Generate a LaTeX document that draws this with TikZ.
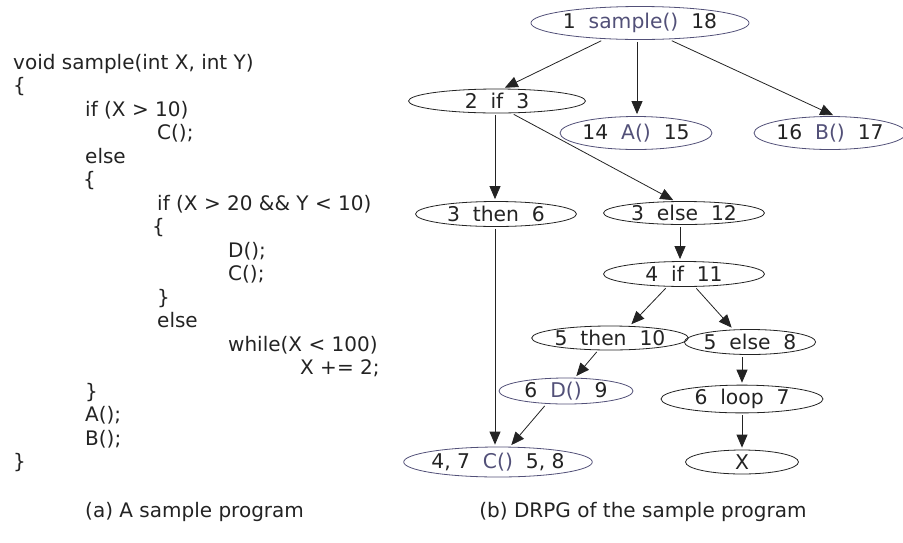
\documentclass[tikz,border=0pt]{standalone}
\usepackage{fontspec}
\setmainfont{DejaVu Sans}
\usetikzlibrary{shapes.geometric,arrows.meta}
\definecolor{ink}{RGB}{35,35,35}
\definecolor{fncol}{RGB}{82,80,120}
\newcommand{\fn}[1]{\textcolor{fncol}{#1}}

\begin{document}
\begin{tikzpicture}[x=1pt, y=-1pt,
				code/.style={anchor=base west, inner sep=0pt, text=ink, font=\fontsize{20}{24}\selectfont},
				region/.style={ellipse, draw=ink, line width=0.8pt, inner sep=0pt, text=ink, font=\fontsize{20.3}{24}\selectfont},
				fnregion/.style={region, draw=fncol},
				edge/.style={-{Triangle[length=13pt,width=11pt]}, draw=ink, line width=0.8pt, shorten <=2pt, shorten >=2pt}]

			\useasboundingbox (0,0) rectangle (903,542);

			% Programme
			\node[code] (l1) at (13,69) {void sample(int X, int Y)};
			\node[code] (l2) at (13,92.5) {\{};
			\node[code] (l3) at (85,116) {if (X > 10)};
			\node[code] (l4) at (157,139.5) {C();};
			\node[code] (l5) at (85,163) {else};
			\node[code] (l6) at (83,186.5) {\{};
			\node[code] (l7) at (157,210) {if (X > 20 \&\& Y < 10)};
			\node[code] (l8) at (152,233.5) {\{};
			\node[code] (l9) at (228,257) {D();};
			\node[code] (l10) at (228,280.5) {C();};
			\node[code] (l11) at (157,304) {\}};
			\node[code] (l12) at (157,327.5) {else};
			\node[code] (l13) at (228,351) {while(X < 100)};
			\node[code] (l14) at (300,374.5) {X += 2;};
			\node[code] (l15) at (85,398) {\}};
			\node[code] (l16) at (85,421.5) {A();};
			\node[code] (l17) at (85,445) {B();};
			\node[code] (l18) at (13,468.5) {\}};
			\node[code] (capA) at (85,517) {(a) A sample program};

			% DRPG
			\node[fnregion, minimum width=195pt, minimum height=33pt] (sample) at (640,23) {1~~\fn{sample()}~~18};
			\node[region, minimum width=177pt, minimum height=24pt] (if3) at (497,101) {2~~if~~3};
			\node[fnregion, minimum width=152pt, minimum height=33pt] (callA) at (636,133) {14~~\fn{A()}~~15};
			\node[fnregion, minimum width=152pt, minimum height=33pt] (callB) at (830,133) {16~~\fn{B()}~~17};
			\node[region, minimum width=161pt, minimum height=25pt] (then6) at (496,214) {3~~then~~6};
			\node[region, minimum width=161pt, minimum height=23pt] (else12) at (684,213) {3~~else~~12};
			\node[region, minimum width=161pt, minimum height=25pt] (if11) at (684,274) {4~~if~~11};
			\node[region, minimum width=139pt, minimum height=24pt] (then10) at (610,338) {5~~then~~10};
			\node[region, minimum width=126pt, minimum height=25pt] (else8) at (750,342) {5~~else~~8};
			\node[fnregion, minimum width=134pt, minimum height=26pt] (callD) at (566,391) {6~~\fn{D()}~~9};
			\node[region, minimum width=162pt, minimum height=24pt] (loop) at (742,399) {6~~loop~~7};
			\node[fnregion, minimum width=184pt, minimum height=30pt] (callC) at (498,462) {4, 7~~\fn{C()}~~5, 8};
			\node[region, minimum width=113pt, minimum height=24pt] (leafX) at (742,462) {X};
			\node[code, anchor=base] (capB) at (643,517) {(b) DRPG of the sample program};

			\draw[edge] ([xshift=-37pt]sample.south) -- ([xshift=6pt]if3.north);
			\draw[edge] ([xshift=-3pt]sample.south) -- ([xshift=1pt]callA.north);
			\draw[edge] ([xshift=30pt]sample.south) -- ([xshift=5pt]callB.north);
			\draw[edge] ([xshift=-2pt]if3.south) -- ([xshift=-1pt]then6.north);
			\draw[edge] ([xshift=15pt]if3.south) -- ([xshift=-9pt]else12.north);
			\draw[edge] ([xshift=-4pt]else12.south) -- ([xshift=-4pt]if11.north);
			\draw[edge] ([xshift=-17pt]if11.south) -- ([xshift=20pt]then10.north);
			\draw[edge] ([xshift=11pt]if11.south) -- ([xshift=-17pt]else8.north);
			\draw[edge] ([xshift=-12pt]then10.south) -- ([xshift=9pt]callD.north);
			\draw[edge] ([xshift=-8pt]else8.south) -- (loop.north);
			\draw[edge] ([xshift=-20pt]callD.south) -- ([xshift=12pt]callC.north);
			\draw[edge] ([xshift=-1pt]then6.south) -- ([xshift=-3pt]callC.north);
			\draw[edge] (loop.south) -- (leafX.north);

		\end{tikzpicture}
\end{document}
